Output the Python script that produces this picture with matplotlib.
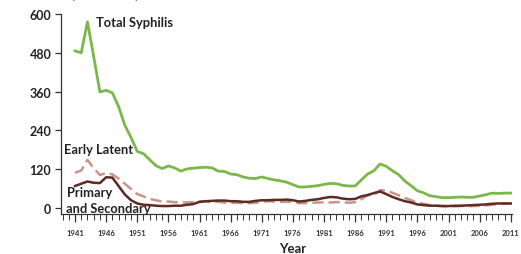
import matplotlib
matplotlib.use("Agg")
import matplotlib.pyplot as plt
from matplotlib.ticker import MultipleLocator

# cases in thousands
years = list(range(1941, 2012))
total = [486, 480, 576, 468, 359, 364, 356, 314, 256, 218,
         175, 168, 149, 131, 122, 130, 124, 114, 121, 123,
         125, 126, 124, 114, 113, 105, 103, 96, 92, 91,
         96, 91, 87, 84, 80, 72, 65, 65, 67, 69,
         73, 76, 75, 70, 68, 68, 87, 105, 115, 136,
         129, 115, 103, 83, 69, 53, 47, 38, 35, 32,
         32, 33, 34, 33, 33, 37, 41, 46, 45, 46, 46]
early_latent = [109, 116, 149, 123, 102, 108, 104, 91, 75, 59,
                43, 36, 28, 24, 20, 20, 18, 17, 17, 18,
                20, 20, 18, 19, 17, 16, 16, 15, 15, 16,
                19, 21, 20, 19, 19, 19, 15, 15, 16, 17,
                17, 17, 18, 18, 16, 18, 27, 40, 40, 55,
                54, 47, 39, 31, 24, 16, 13, 9, 7, 6,
                5, 5, 6, 6, 6, 7, 8, 10, 12, 13, 14]
primary_secondary = [68, 75, 82, 78, 77, 95, 94, 68, 42, 24,
                     14, 10, 9, 7, 6, 6, 7, 7, 10, 12,
                     19, 21, 22, 23, 23, 21, 21, 19, 19, 22,
                     24, 24, 25, 25, 26, 24, 20, 22, 25, 27,
                     31, 34, 33, 29, 27, 28, 36, 40, 46, 51,
                     43, 34, 27, 21, 17, 11, 9, 7, 7, 6,
                     6, 7, 7, 8, 9, 10, 11, 13, 14, 14, 14]

green = "#7bb84a"
dark = "#5e2a24"
light = "#c99489"

fig = plt.figure(figsize=(5.21, 2.55), dpi=100)
ax = fig.add_axes([61 / 521, 40 / 255, 451 / 521, 200 / 255])

ax.plot(years, total, color=green, lw=2.0, solid_joinstyle="round")
ax.plot(years, early_latent, color=light, lw=1.8, ls=(0, (4.5, 2)))
ax.plot(years, primary_secondary, color=dark, lw=1.8, solid_joinstyle="round")

ax.set_xlim(1938.75, 2011.2)
ax.set_ylim(-18.6, 600)

ax.spines["top"].set_visible(False)
ax.spines["right"].set_visible(False)
ax.spines["left"].set_color("#333333")
ax.spines["bottom"].set_color("#333333")
ax.spines["left"].set_linewidth(0.9)
ax.spines["bottom"].set_linewidth(0.9)

ax.set_yticks([0, 120, 240, 360, 480, 600])
ax.set_xticks(range(1941, 2012, 5))
ax.xaxis.set_minor_locator(MultipleLocator(1))
ax.tick_params(axis="y", length=4, width=0.9, color="#333333", pad=3)
ax.tick_params(axis="x", which="major", length=6, width=0.9, color="#333333", pad=5)
ax.tick_params(axis="x", which="minor", length=4, width=0.7, color="#333333")
for lab in ax.get_yticklabels():
    lab.set_fontfamily("Lato")
    lab.set_fontweight("bold")
    lab.set_fontsize(9)
    lab.set_color("#222222")
for lab in ax.get_xticklabels():
    lab.set_fontfamily("Lato")
    lab.set_fontweight("bold")
    lab.set_fontsize(5.5)
    lab.set_color("#333333")

fig.text(293 / 521, 1 - 249 / 255, "Year", fontfamily="Lato", fontweight="bold",
         fontsize=9.5, ha="center", va="center", color="#222222")
# axis title sits mostly above the top edge, as in the source image
fig.text(0.07, 1 + 5 / 255, "Cases (Thousands)", fontfamily="Lato", fontweight="bold",
         fontsize=9, ha="left", va="center", color="#555555")

tkw = dict(fontfamily="Lato", fontweight="bold", fontsize=9.3, color="#222222",
           ha="left", va="center")
fig.text(96 / 521, 1 - 23 / 255, "Total Syphilis", **tkw)
fig.text(64 / 521, 1 - 150 / 255, "Early Latent", **tkw)
fig.text(67 / 521, 1 - 193 / 255, "Primary", **tkw)
fig.text(66 / 521, 1 - 209 / 255, "and Secondary", **tkw)

fig.savefig("out.png", dpi=100)
